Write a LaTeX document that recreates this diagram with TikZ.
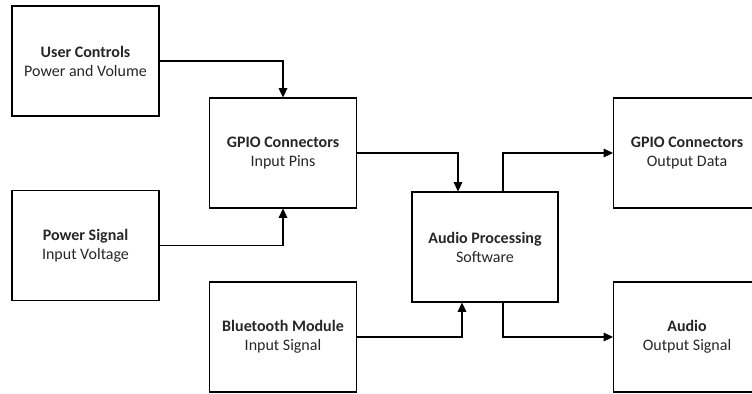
\documentclass[tikz,border=0pt]{standalone}
\usepackage{fontspec}
\setmainfont{Carlito}
\usetikzlibrary{arrows.meta,calc}
\begin{document}
\begin{tikzpicture}[x=0.75pt,y=-0.75pt,
  blk/.style={draw,line width=0.8pt,minimum width=110.25pt,minimum height=82.5pt,
    inner sep=0pt,align=center,text=black!85,font=\fontsize{12}{14.25}\selectfont},
  conn/.style={line width=0.8pt,-{Triangle[length=7pt,width=6.5pt]}}]
\useasboundingbox (0,0) rectangle (752,393);
\node[blk] (uc) at (85.5,61) {\textbf{User Controls}\\Power and Volume};
\node[blk] (gin) at (283,153) {\textbf{GPIO Connectors}\\Input Pins};
\node[blk] (ps) at (85.5,245.5) {\textbf{Power Signal}\\Input Voltage};
\node[blk] (bt) at (283,337) {\textbf{Bluetooth Module}\\Input Signal};
\node[blk,minimum width=109.5pt] (ap) at (485,247) {\textbf{Audio Processing}\\Software};
\node[blk] (gout) at (687,153) {\textbf{GPIO Connectors}\\Output Data};
\node[blk] (au) at (687,337) {\textbf{Audio}\\Output Signal};
\draw[conn] (uc.east) -| (gin.north);
\draw[conn] (ps.east) -| (gin.south);
\draw[conn] (gin.east) -| ($(ap.north)+(-27,0)$);
\draw[conn] ($(ap.north)+(18,0)$) |- (gout.west);
\draw[conn] (bt.east) -| ($(ap.south)+(-23,0)$);
\draw[conn] ($(ap.south)+(18,0)$) |- (au.west);
\end{tikzpicture}
\end{document}
